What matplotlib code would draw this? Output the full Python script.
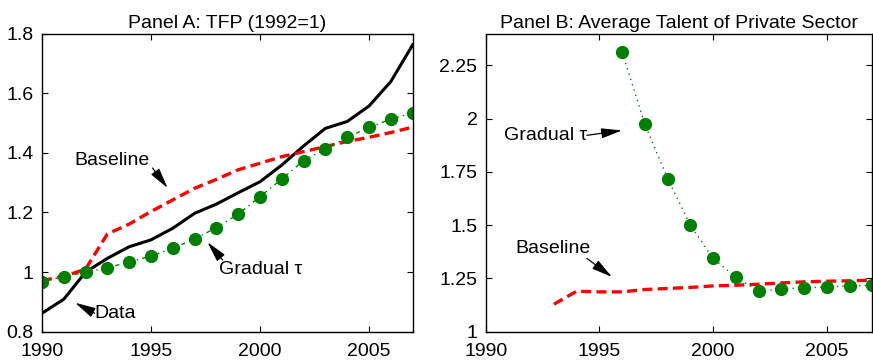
import matplotlib
matplotlib.use('Agg')
from matplotlib import pyplot as plt
from matplotlib.ticker import FormatStrFormatter
import numpy as np

plt.rcParams['font.family'] = ['Liberation Sans', 'DejaVu Sans']

# Panel A: TFP (1992=1)
years_a = np.arange(1990, 2008)
tfp_data = [0.862, 0.909, 1.000, 1.046, 1.085, 1.108, 1.147, 1.197, 1.228,
            1.266, 1.303, 1.359, 1.423, 1.482, 1.505, 1.557, 1.639, 1.762]
tfp_base = [0.972, 0.985, 1.010, 1.128, 1.161, 1.203, 1.242, 1.281, 1.311,
            1.343, 1.365, 1.387, 1.404, 1.421, 1.438, 1.452, 1.468, 1.486]
tfp_grad = [0.968, 0.985, 0.999, 1.015, 1.033, 1.054, 1.080, 1.111, 1.149,
            1.194, 1.253, 1.312, 1.374, 1.413, 1.452, 1.485, 1.513, 1.533]

# Panel B: Average talent of private sector
years_base_b = np.arange(1993, 2008)
talent_base = [1.129, 1.190, 1.187, 1.187, 1.198, 1.203, 1.208, 1.215,
               1.218, 1.223, 1.229, 1.234, 1.237, 1.239, 1.242]
years_grad_b = np.arange(1996, 2008)
talent_grad = [2.312, 1.973, 1.719, 1.500, 1.344, 1.257, 1.190, 1.200,
               1.206, 1.210, 1.215, 1.218]

green = (0, 0.5, 0)
red = (1, 0, 0)
fs = 14

fig = plt.figure(figsize=(8.73, 3.6), dpi=100)
ax1 = fig.add_axes([0.0481, 0.0786, 0.4246, 0.8283])
ax2 = fig.add_axes([0.5564, 0.0786, 0.4428, 0.8283])

arrow = dict(arrowstyle='-|>,head_length=0.9,head_width=0.22', color='k',
             lw=0.9, shrinkA=0, shrinkB=0, mutation_scale=14)

# Panel A
ax1.plot(years_a, tfp_data, color='k', linewidth=2.2)
ax1.plot(years_a, tfp_base, color=red, linewidth=2.4, linestyle=(0, (3, 1.6)))
ax1.plot(years_a, tfp_grad, color=green, linewidth=1, linestyle=(0, (1, 3, 3, 3)),
         marker='o', markersize=8.5, markeredgecolor=green, markerfacecolor=green)
ax1.set_xlim(1990, 2007)
ax1.set_ylim(0.8, 1.8)
ax1.set_yticks([0.8, 1.0, 1.2, 1.4, 1.6, 1.8])
ax1.set_title('Panel A: TFP (1992=1)', fontsize=fs, pad=4)
ax1.annotate('', xy=(1995.76, 1.282), xytext=(1995.07, 1.349), arrowprops=arrow)
ax1.text(1991.5, 1.345, 'Baseline', fontsize=fs, va='bottom')
ax1.annotate('', xy=(1991.52, 0.897), xytext=(1992.41, 0.862), arrowprops=arrow)
ax1.text(1992.4, 0.862, 'Data', fontsize=fs, va='center')
ax1.annotate('', xy=(1997.59, 1.100), xytext=(1998.28, 1.041), arrowprops=arrow)
ax1.text(1998.1, 1.007, 'Gradual τ', fontsize=fs, va='center')

# Panel B
ax2.plot(years_base_b, talent_base, color=red, linewidth=2.4, linestyle=(0, (3, 1.6)))
ax2.plot(years_grad_b, talent_grad, color=green, linewidth=1, linestyle=(0, (1, 3)),
         marker='o', markersize=8.5, markeredgecolor=green, markerfacecolor=green)
ax2.set_xlim(1990, 2007)
ax2.set_ylim(1, 2.4)
ax2.set_yticks([1, 1.25, 1.5, 1.75, 2, 2.25])
ax2.set_title('Panel B: Average Talent of Private Sector', fontsize=fs, pad=4)
ax2.annotate('', xy=(1995.99, 1.945), xytext=(1994.45, 1.922), arrowprops=arrow)
ax2.text(1994.45, 1.922, 'Gradual τ', fontsize=fs, va='center', ha='right')
ax2.annotate('', xy=(1995.55, 1.257), xytext=(1994.45, 1.344), arrowprops=arrow)
ax2.text(1991.3, 1.35, 'Baseline', fontsize=fs, va='bottom')

for ax in (ax1, ax2):
    ax.set_xticks([1990, 1995, 2000, 2005])
    ax.yaxis.set_major_formatter(FormatStrFormatter('%g'))
    ax.tick_params(direction='in', top=True, right=True, labelsize=fs,
                   length=4, width=0.8)
    ax.tick_params(axis='x', pad=8)
    ax.tick_params(axis='y', pad=6)
    for s in ax.spines.values():
        s.set_linewidth(1)

plt.savefig('out.png', dpi=100)
plt.close()
